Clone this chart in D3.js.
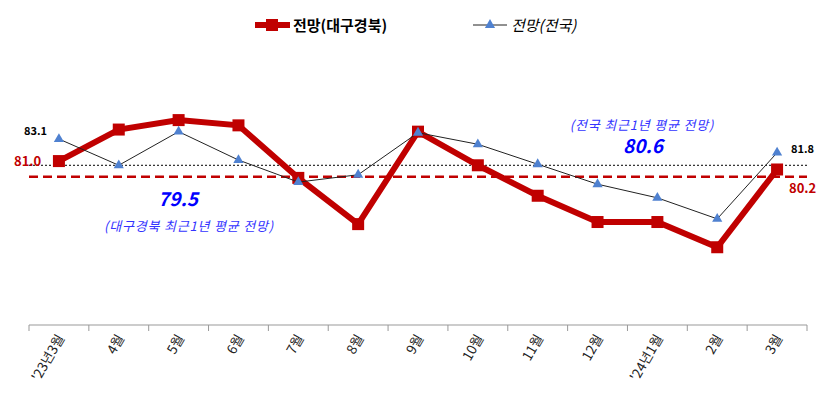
<!DOCTYPE html><html><head><meta charset="utf-8"><script src="https://cdn.jsdelivr.net/npm/d3@7"></script>
<style>body{margin:0;background:#fff;font-family:"Noto Sans CJK KR","Noto Sans",sans-serif}</style></head><body><svg id="c" width="830" height="413"></svg>
<script>
const categories=["'23년3월","4월","5월","6월","7월","8월","9월","10월","11월","12월","'24년1월","2월","3월"];
const regional=[81.0,84.0,84.9,84.4,79.4,75.0,83.8,80.6,77.7,75.2,75.2,72.8,80.2];
const national=[83.1,80.6,83.8,81.1,79.0,79.7,83.7,82.6,80.7,78.8,77.5,75.5,81.8];
const regionalAvg=79.5, nationalAvg=80.6;
const svg=d3.select("#c");
const x=d3.scaleBand().domain(categories).range([29,807]);
const y=d3.scaleLinear().domain([65.4,91]).range([325,56]);
const cx=d=>x(d)+x.bandwidth()/2;
svg.append("line").attr("x1",29).attr("x2",807).attr("y1",325).attr("y2",325).attr("stroke","#999");
categories.concat([null]).forEach((c,i)=>{const xx=c?x(c):807;svg.append("line").attr("x1",xx).attr("x2",xx).attr("y1",325).attr("y2",331).attr("stroke","#999");});
categories.forEach(c=>svg.append("text").attr("transform",`translate(${cx(c)+6},${338}) rotate(-60)`).attr("text-anchor","end").attr("font-size",13.5).attr("fill","#222").text(c));
svg.append("line").attr("x1",29).attr("x2",807).attr("y1",y(nationalAvg)).attr("y2",y(nationalAvg)).attr("stroke","#000").attr("stroke-dasharray","2,2").attr("stroke-width",1);
svg.append("line").attr("x1",29).attr("x2",807).attr("y1",y(regionalAvg)).attr("y2",y(regionalAvg)).attr("stroke","#c00000").attr("stroke-dasharray","9,5").attr("stroke-width",2.5);
const line=d3.line().x((d,i)=>cx(categories[i])).y(d=>y(d));
svg.append("path").attr("d",line(regional)).attr("fill","none").attr("stroke","#c00000").attr("stroke-width",6).attr("stroke-linejoin","miter");
svg.selectAll(".sq").data(regional).join("rect").attr("x",(d,i)=>cx(categories[i])-6).attr("y",d=>y(d)-6).attr("width",12).attr("height",12).attr("fill","#c00000");
svg.append("path").attr("d",line(national)).attr("fill","none").attr("stroke","#222").attr("stroke-width",1);
const tri=d3.symbol().type(d3.symbolTriangle).size(45);
svg.selectAll(".tr").data(national).join("path").attr("d",tri).attr("transform",(d,i)=>`translate(${cx(categories[i])},${y(d)})`).attr("fill","#4f81d0");
const t=(xx,yy,s,o)=>svg.append("text").attr("x",xx).attr("y",yy).text(s).attr("font-size",o.size||12).attr("font-weight",o.bold?"bold":"normal").attr("fill",o.fill||"#000").attr("font-style",o.it?"italic":"normal").attr("text-anchor",o.a||"start").attr("letter-spacing",o.ls||0);
t(24,135,"83.1",{bold:1,size:11});
t(14,166,"81.0",{bold:1,size:13,fill:"#c00000"});
t(791,153,"81.8",{bold:1,size:11});
t(789,193,"80.2",{bold:1,size:13,fill:"#c00000"});
t(178,206,"79.5",{bold:1,it:1,size:19,fill:"#0000ff",a:"middle"});
t(189,231,"(대구경북 최근1년 평균 전망)",{it:1,size:13,fill:"#3333ff",a:"middle",ls:0.8});
t(642,130,"(전국 최근1년 평균 전망)",{it:1,size:13,fill:"#3333ff",a:"middle",ls:0.8});
t(643,153,"80.6",{bold:1,it:1,size:19,fill:"#0000ff",a:"middle"});
svg.append("line").attr("x1",255).attr("x2",290).attr("y1",25).attr("y2",25).attr("stroke","#c00000").attr("stroke-width",6);
svg.append("rect").attr("x",266).attr("y",19).attr("width",12).attr("height",12).attr("fill","#c00000");
t(293,31,"전망(대구경북)",{bold:1,size:15});
svg.append("line").attr("x1",473).attr("x2",507).attr("y1",25).attr("y2",25).attr("stroke","#222");
svg.append("path").attr("d",tri).attr("transform","translate(490,25)").attr("fill","#4f81d0");
t(511,31,"전망(전국)",{it:1,size:15});
</script></body></html>
